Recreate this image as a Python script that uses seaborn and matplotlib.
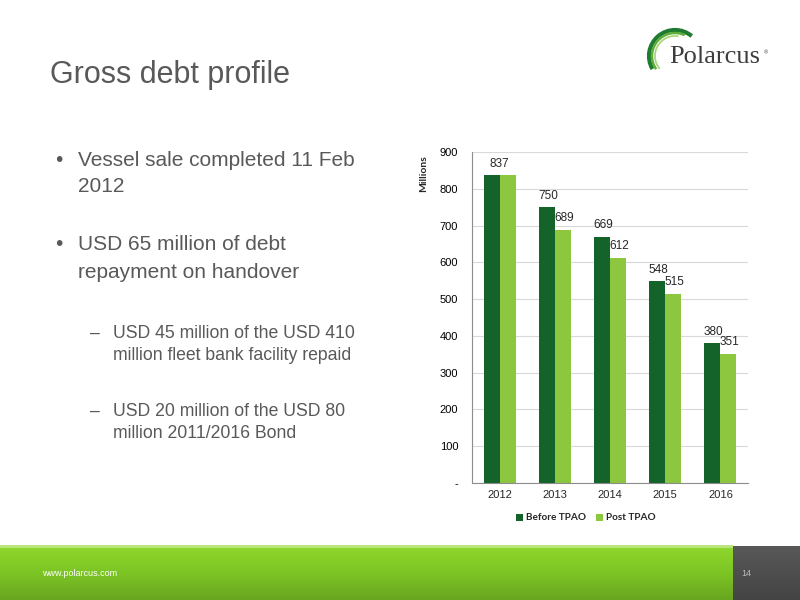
import numpy as np
import pandas as pd
import seaborn as sns
import matplotlib.pyplot as plt
from matplotlib.patches import Arc, Rectangle
from matplotlib.colors import LinearSegmentedColormap

# data
years = ['2012', '2013', '2014', '2015', '2016']
before_tpao = [837, 750, 669, 548, 380]
post_tpao = [837, 689, 612, 515, 351]
series_names = ['Before TPAO', 'Post TPAO']
y_ticks = [0, 100, 200, 300, 400, 500, 600, 700, 800, 900]
y_tick_labels = ['-', '100', '200', '300', '400', '500', '600', '700', '800', '900']

df = pd.DataFrame({
    'year': years * 2,
    'debt': before_tpao + post_tpao,
    'series': [series_names[0]] * len(years) + [series_names[1]] * len(years),
})

dark_green = '#13632b'
light_green = '#8dc63f'
text_grey = '#595959'

sns.set_style('white')
plt.rcParams['font.family'] = ['Liberation Sans', 'DejaVu Sans']

fig = plt.figure(figsize=(8, 6), dpi=100)

# background layer in pixel coords (slide decorations + text)
bg = fig.add_axes([0, 0, 1, 1])
bg.set_xlim(0, 800)
bg.set_ylim(600, 0)
bg.axis('off')

# footer bar
green_cmap = LinearSegmentedColormap.from_list('g', ['#8fd72c', '#7cc424', '#68a520'])
grad = np.linspace(0, 1, 100).reshape(-1, 1)
bg.imshow(grad, cmap=green_cmap, extent=[0, 733, 600, 547], aspect='auto', zorder=1)
bg.add_patch(Rectangle((0, 545), 733, 2.5, color='#b9e57c', zorder=2, lw=0))
grey_cmap = LinearSegmentedColormap.from_list('k', ['#585858', '#444444'])
bg.imshow(grad, cmap=grey_cmap, extent=[733, 800, 600, 546], aspect='auto', zorder=1)
bg.set_xlim(0, 800)
bg.set_ylim(600, 0)
bg.text(42, 573, 'www.polarcus.com', color='white', fontsize=6.5, va='center', ha='left',
        family=['Liberation Sans Narrow', 'Liberation Sans'])
bg.text(746, 573, '14', color='#bbbbbb', fontsize=6.5, va='center', ha='center',
        family=['Liberation Sans Narrow', 'Liberation Sans'])

# logo
for r, lw, col, t1, t2 in [(26, 3.0, '#1f7a32', 150, 310), (23, 1.8, '#5fae3a', 145, 295),
                           (20, 1.2, '#a8d46f', 140, 280)]:
    bg.add_patch(Arc((675, 56), 2 * r, 2 * r, theta1=t1, theta2=t2, color=col, lw=lw, zorder=3))
bg.text(669, 63, 'Polarcus', family=['Liberation Serif', 'DejaVu Serif'], fontsize=19,
        color='#3d3d3d', va='baseline', ha='left', zorder=4)
bg.text(764, 53, '®', fontsize=4, color='#3d3d3d', ha='left', va='center')

# title and bullets
bg.text(50, 75, 'Gross debt profile', fontsize=22, color=text_grey, va='center', ha='left')
bg.text(55, 160, '•', fontsize=15, color=text_grey, va='center')
bg.text(78, 160, 'Vessel sale completed 11 Feb', fontsize=15, color=text_grey, va='center')
bg.text(78, 187, '2012', fontsize=15, color=text_grey, va='center')
bg.text(55, 245, '•', fontsize=15, color=text_grey, va='center')
bg.text(78, 245, 'USD 65 million of debt', fontsize=15, color=text_grey, va='center')
bg.text(78, 272, 'repayment on handover', fontsize=15, color=text_grey, va='center')
bg.text(90, 333, '–', fontsize=12.7, color=text_grey, va='center')
bg.text(113, 333, 'USD 45 million of the USD 410', fontsize=12.7, color=text_grey, va='center')
bg.text(113, 356, 'million fleet bank facility repaid', fontsize=12.7, color=text_grey, va='center')
bg.text(90, 411, '–', fontsize=12.7, color=text_grey, va='center')
bg.text(113, 411, 'USD 20 million of the USD 80', fontsize=12.7, color=text_grey, va='center')
bg.text(113, 434, 'million 2011/2016 Bond', fontsize=12.7, color=text_grey, va='center')

# chart
ax = fig.add_axes([472 / 800, 1 - 483 / 600, 276 / 800, 331 / 600])
sns.barplot(data=df, x='year', y='debt', hue='series', palette=[dark_green, light_green],
            width=0.58, saturation=1, linewidth=0, ax=ax)
ax.set_ylim(0, 900)
ax.set_xlim(-0.5, len(years) - 0.5)
ax.set_yticks(y_ticks)
ax.set_yticklabels(y_tick_labels)
ax.yaxis.grid(True, color='#d9d9d9', lw=0.8)
ax.set_axisbelow(True)
for s in ['top', 'right']:
    ax.spines[s].set_visible(False)
for s in ['left', 'bottom']:
    ax.spines[s].set_color('#8c8c8c')
    ax.spines[s].set_linewidth(0.8)
ax.tick_params(axis='y', length=4, color='#8c8c8c', labelsize=8, colors='#000000', pad=6)
ax.tick_params(axis='x', length=0, labelsize=8, pad=5)
ax.set_xticks(np.arange(-0.5, len(years)), minor=True)
ax.tick_params(axis='x', which='minor', length=4, color='#8c8c8c')
ax.set_xlabel('')
ax.set_ylabel('Millions', family=['Lato', 'DejaVu Sans'], fontweight='bold', fontsize=7.5, loc='top')
ax.yaxis.set_label_coords(-0.16, 0.99)

# value labels
c_before, c_post = ax.containers[0], ax.containers[1]
for i in range(len(years)):
    if before_tpao[i] == post_tpao[i]:
        ax.annotate(str(before_tpao[i]), (i, before_tpao[i]), xytext=(0, 4),
                    textcoords='offset points', ha='center', va='bottom', fontsize=8.5)
    else:
        for bar, v in [(c_before[i], before_tpao[i]), (c_post[i], post_tpao[i])]:
            ax.annotate(str(v), (bar.get_x() + bar.get_width() / 2, v), xytext=(1, 4),
                        textcoords='offset points', ha='center', va='bottom', fontsize=8.5)

handles, labels = ax.get_legend_handles_labels()
ax.legend(handles, labels, loc='center', bbox_to_anchor=(586 / 800, 1 - 518 / 600),
          bbox_transform=fig.transFigure, ncol=2, frameon=False,
          prop={'family': ['Lato', 'DejaVu Sans'], 'weight': 'bold', 'size': 7.2},
          handlelength=0.7, handleheight=0.7, columnspacing=1.0, handletextpad=0.3)

fig.savefig('out.png', dpi=100)
